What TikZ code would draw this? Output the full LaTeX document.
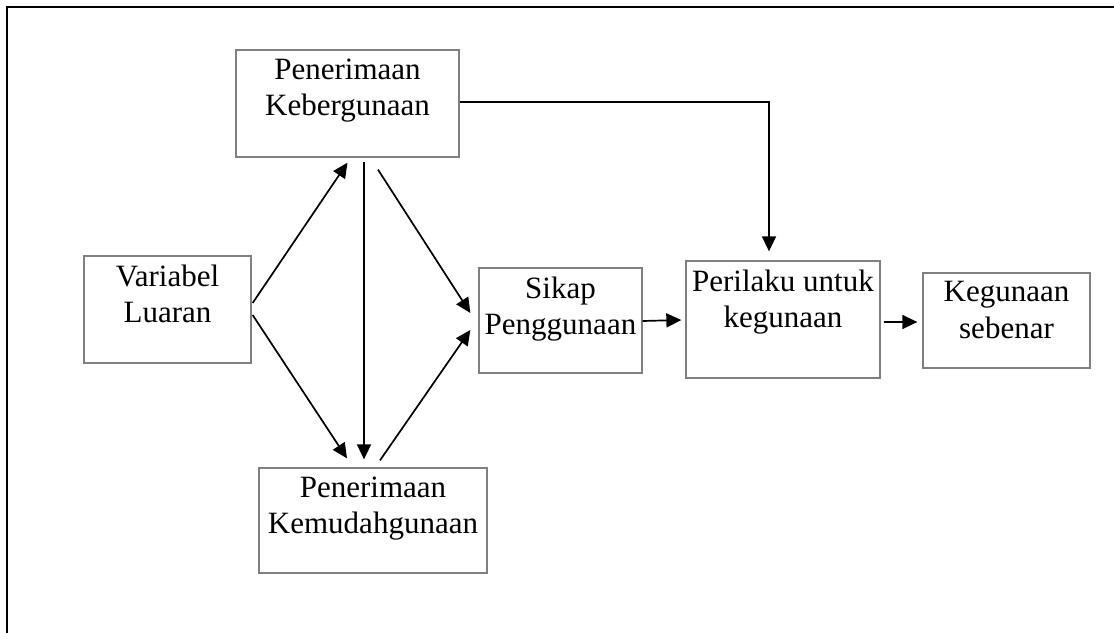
\documentclass[tikz,border=0pt]{standalone}
\usepackage{fontspec}
\setmainfont{Liberation Serif}
\usetikzlibrary{arrows.meta,calc}
\begin{document}
\begin{tikzpicture}[x=1pt,y=-1pt,
  box/.style={draw=black!50,line width=1.3pt,inner sep=0pt},
  lbl/.style={anchor=north,inner sep=0pt,align=center,
    font=\fontsize{31}{36.5}\selectfont},
  link/.style={line width=1.7pt,-{Triangle[length=15pt,width=14pt]}},
  frame/.style={line width=2.2pt}]
\useasboundingbox (0,0) rectangle (1114,632);
\clip (0,0) rectangle (1114,632);
\draw[frame] (7,7) rectangle (1130,650);

% boxes
\node[box,minimum width=223pt,minimum height=107pt] (pk) at (347.5,103.5) {};
\node[box,minimum width=167pt,minimum height=107pt] (vl) at (167.5,309.5) {};
\node[box,minimum width=228pt,minimum height=105pt] (pm) at (373,520.5) {};
\node[box,minimum width=163pt,minimum height=105pt] (sp) at (560.5,320.5) {};
\node[box,minimum width=194pt,minimum height=117pt] (pu) at (783,319.5) {};
\node[box,minimum width=167pt,minimum height=95pt] (ks) at (1006.5,320.5) {};

% labels
\node[lbl] (pkt) at ($(pk.north)+(0,9)$) {Penerimaan\\Kebergunaan};
\node[lbl] (vlt) at ($(vl.north)+(0,9)$) {Variabel\\Luaran};
\node[lbl] (pmt) at ($(pm.north)+(0,9)$) {Penerimaan\\Kemudahgunaan};
\node[lbl] (spt) at ($(sp.north)+(0,9)$) {Sikap\\Penggunaan};
\node[lbl] (put) at ($(pu.north)+(0,9)$) {Perilaku untuk\\kegunaan};
\node[lbl] (kst) at ($(ks.north)+(0,9)$) {Kegunaan\\sebenar};

% connectors
\draw[link] ($(vl.east)+(1,-6.5)$) -- ($(pk.south)+(0,5)$);
\draw[link] ($(vl.east)+(1,5.5)$) -- ($(pm.north)+(-26,-9)$);
\draw[link] ($(pk.south)+(16.5,4)$) -- ($(pm.north)+(-9,-8)$);
\draw[link] ($(pk.south)+(30.5,12)$) -- ($(sp.west)+(-8,-7.5)$);
\draw[link] ($(pm.north)+(7,-7)$) -- ($(sp.west)+(-8,9.5)$);
\coordinate (putop) at ($(pu.north)+(-14,-9)$);
\draw[link] ($(pk.east)+(0,-1.5)$) -| (putop);
\draw[link] ($(sp.east)+(0,0.5)$) -- ($(pu.west)+(-4,0.5)$);
\draw[link] ($(pu.east)+(3,2.5)$) -- ($(ks.west)+(-5,1.5)$);
\end{tikzpicture}
\end{document}
